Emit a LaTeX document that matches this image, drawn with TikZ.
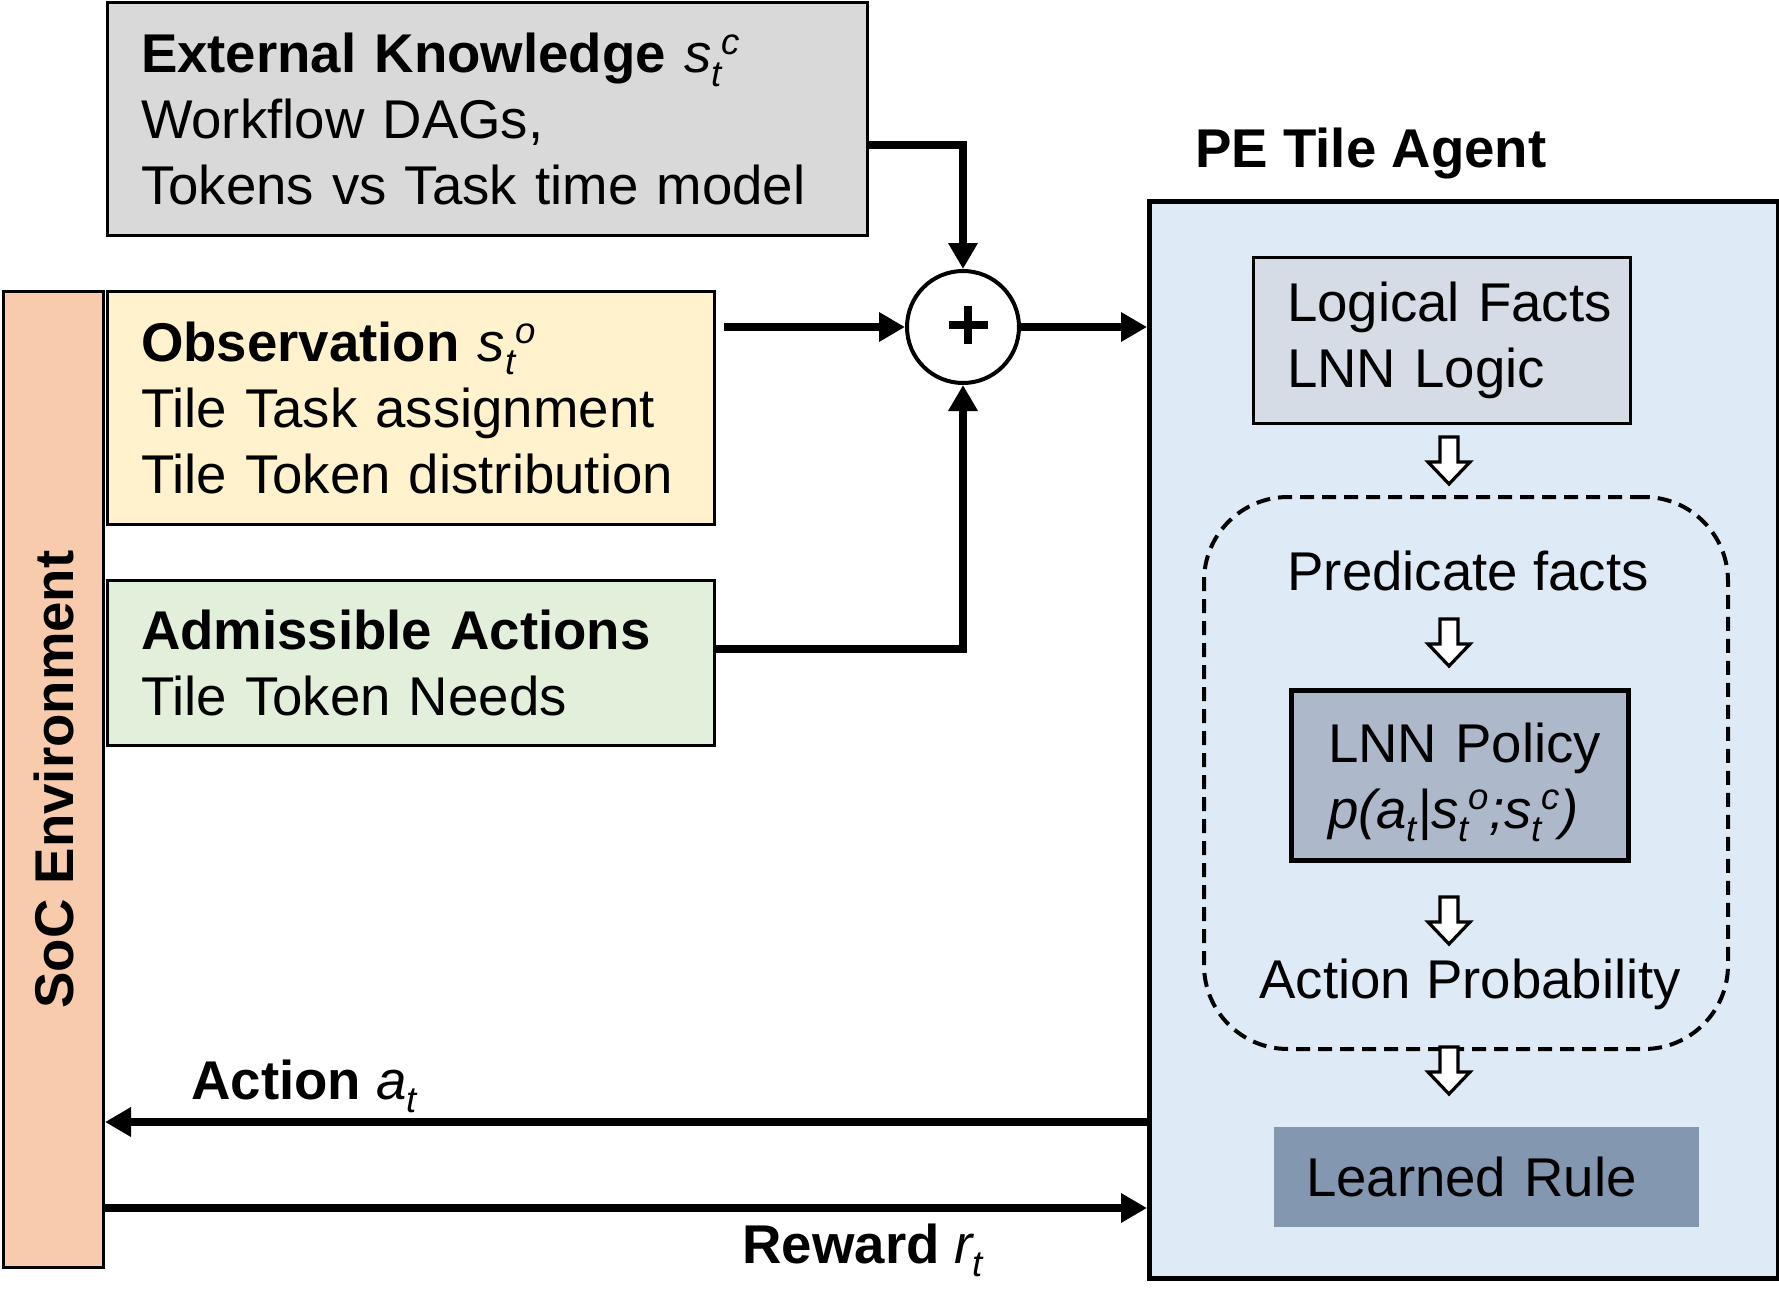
\documentclass[tikz,border=0pt]{standalone}
\usepackage{fontspec}
\setmainfont{Liberation Sans}
\usetikzlibrary{arrows.meta}
\definecolor{extfill}{HTML}{D9D9D9}
\definecolor{obsfill}{HTML}{FFF2CC}
\definecolor{admfill}{HTML}{E2EFDA}
\definecolor{socfill}{HTML}{F8CBAD}
\definecolor{pefill}{HTML}{DEEAF6}
\definecolor{logfill}{HTML}{D6DCE5}
\definecolor{lnnfill}{HTML}{ADB9CA}
\definecolor{rulefill}{HTML}{8497B0}
\newcommand{\bigsz}{\fontsize{27.3}{33}\selectfont}
\newcommand{\iv}[1]{{\normalfont\itshape #1}}
\newcommand{\sbt}[1]{\raisebox{-0.25em}{\normalfont\itshape\fontsize{18.3}{18}\selectfont #1}}
\newcommand{\spt}[1]{\raisebox{0.33em}{\normalfont\itshape\fontsize{18.3}{18}\selectfont #1}}
\tikzset{
  rg/.style={font=\bigsz, inner sep=0pt},
  bf/.style={font=\bigsz\bfseries, inner sep=0pt},
  box/.style={draw, line width=1.5pt, anchor=north west, inner xsep=17pt, inner ysep=0pt, align=left, outer sep=0pt, font=\bigsz},
  arr/.style={line width=3.7pt, -{Triangle[width=14pt,length=13pt]}},
  hdown/.pic={\draw[fill=white, line width=1.6pt, miter limit=10] (-9,0) -- (9,0) -- (9,25) -- (21,25) -- (0,47) -- (-21,25) -- (-9,25) -- cycle;}
}
\begin{document}
\begin{tikzpicture}[x=0.5pt,y=-0.5pt]
\useasboundingbox (0,0) rectangle (1779,1311);
% left side
\node[box, fill=extfill, minimum width=380pt, minimum height=116pt, text width=346pt] (ext) at (107,3)
  {\mbox{\textbf{External Knowledge} \iv{s}\sbt{t}\spt{c}}\\ Workflow DAGs,\\ \mbox{Tokens vs Task time model}};
\node[box, fill=obsfill, minimum width=303.5pt, minimum height=116.5pt, text width=269.5pt] (obs) at (107,291)
  {\mbox{\textbf{Observation} \iv{s}\sbt{t}\spt{o}}\\ \mbox{Tile Task assignment}\\ \mbox{Tile Token distribution}};
\node[box, fill=admfill, minimum width=303.5pt, minimum height=82.5pt, text width=269.5pt] (adm) at (107,580)
  {\mbox{\textbf{Admissible Actions}}\\ \mbox{Tile Token Needs}};
\node[draw, line width=1.5pt, fill=socfill, anchor=north west, minimum width=50pt, minimum height=488pt, inner sep=0pt] (soc) at (2,290) {};
\node[bf, rotate=90] (soctext) at (soc.center) {SoC Environment};
% sum
\node[circle, draw, line width=2pt, minimum size=56pt, inner sep=0pt, fill=white] (sum) at (963,327) {};
\draw[line width=3.6pt] ([xshift=-7.25pt,yshift=1pt]sum.center) -- ([xshift=12.25pt,yshift=1pt]sum.center)
  ([xshift=2.5pt,yshift=10.5pt]sum.center) -- ([xshift=2.5pt,yshift=-8.5pt]sum.center);
% agent
\node[draw, line width=2.4pt, fill=pefill, anchor=north west, minimum width=314.5pt, minimum height=538.5pt, inner sep=0pt] (pe) at (1147,199) {};
\node[bf, anchor=base west] (petitle) at (1195,168) {PE Tile Agent};
\node[draw, dash pattern=on 7pt off 4pt, line width=2pt, rounded corners=42pt, anchor=north west, minimum width=262pt, minimum height=276pt, inner sep=0pt] (dash) at (1202,495) {};
\node[box, fill=logfill, minimum width=188.5pt, minimum height=83pt, text width=154.5pt] (logic) at (1253,257) {\mbox{Logical Facts}\\ \mbox{LNN Logic}};
\node[rg, anchor=base west] (pred) at (1287,590) {Predicate facts};
\node[box, line width=2.5pt, fill=lnnfill, minimum width=168.5pt, minimum height=85pt, inner xsep=18.5pt, text width=131.5pt] (lnn) at (1291,690)
  {\mbox{\rule{0pt}{27pt}LNN Policy}\\ \mbox{\iv{p(a}\sbt{t}\iv{|s}\sbt{t}\spt{o}\iv{;s}\sbt{t}\spt{c}\iv{)}}};
\node[rg, anchor=base west] (aprob) at (1259,998) {Action Probability};
\node[rg, anchor=north west, fill=rulefill, minimum width=212.5pt, minimum height=50pt, inner xsep=15.8pt, inner ysep=0pt, text width=180.9pt, align=left] (rule) at (1274,1127) {\mbox{Learned Rule}};
\pic at (1449,437) {hdown};
\pic at (1449,619) {hdown};
\pic at (1449,897) {hdown};
\pic at (1449,1047) {hdown};
% labels
\node[bf, anchor=base west] (actlbl) at (191,1099) {Action \iv{a}\sbt{t}};
\node[bf, anchor=base west] (rewlbl) at (742,1263) {Reward \iv{r}\sbt{t}};
% connectors
\coordinate (ky) at (0,145);
\coordinate (ay) at (0,649);
\coordinate (acty) at (0,1122);
\coordinate (rewy) at (0,1208);
\draw[arr] (ext.east |- ky) -| (sum.north);
\draw[arr] ([xshift=5pt]obs.east |- sum.west) -- (sum.west);
\draw[arr] (adm.east |- ay) -| (sum.south);
\draw[arr] (sum.east) -- (sum.east -| pe.west);
\draw[arr] (pe.west |- acty) -- (soc.east |- acty);
\draw[arr] (soc.east |- rewy) -- (pe.west |- rewy);
\end{tikzpicture}
\end{document}
